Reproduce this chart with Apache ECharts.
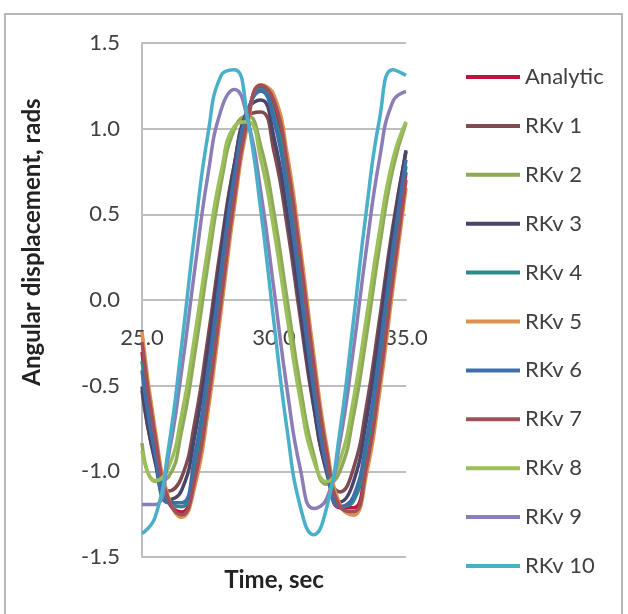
<!DOCTYPE html>
<html>
<head>
<meta charset="utf-8">
<script src="https://cdn.jsdelivr.net/npm/echarts@6/dist/echarts.min.js"></script>
<style>
html, body { margin: 0; padding: 0; background: #fff; }
#chart { width: 628px; height: 614px; }
</style>
</head>
<body>
<div id="chart"></div>
<script>
// time samples, sec
const times = [25.0, 25.5, 26.0, 26.5, 27.0, 27.5, 28.0, 28.5, 29.0, 29.5, 30.0,
  30.5, 31.0, 31.5, 32.0, 32.5, 33.0, 33.5, 34.0, 34.5, 35.0]

const seriesNames = ['Analytic', 'RKv 1', 'RKv 2', 'RKv 3', 'RKv 4', 'RKv 5',
  'RKv 6', 'RKv 7', 'RKv 8', 'RKv 9', 'RKv 10']

// angular displacement, rads
const analytic = [-0.304, -0.839, -1.177, -1.237, -1.004, -0.535, 0.061, 0.643, 1.072, 1.249, 1.130,
  0.745, 0.183, -0.421, -0.926, -1.213, -1.213, -0.926, -0.421, 0.183, 0.745]
const rkv1 = [-0.528, -0.931, -1.115, -1.035, -0.711, -0.219, 0.325, 0.792, 1.072, 1.098, 0.866,
  0.429, -0.110, -0.622, -0.988, -1.120, -0.988, -0.622, -0.110, 0.429, 0.866]
const rkv2 = [-0.835, -1.059, -1.033, -0.764, -0.314, 0.211, 0.685, 0.998, 1.075, 0.898, 0.509,
  0.000, -0.509, -0.898, -1.075, -0.998, -0.685, -0.211, 0.314, 0.764, 1.033]
const rkv3 = [-0.505, -0.948, -1.167, -1.111, -0.792, -0.287, 0.287, 0.792, 1.111, 1.167, 0.948,
  0.505, -0.058, -0.607, -1.012, -1.179, -1.067, -0.703, -0.173, 0.398, 0.874]
const rkv4 = [-0.357, -0.870, -1.177, -1.206, -0.951, -0.471, 0.121, 0.683, 1.085, 1.230, 1.085,
  0.683, 0.121, -0.471, -0.951, -1.206, -1.177, -0.870, -0.357, 0.240, 0.780]
const rkv5 = [-0.186, -0.757, -1.148, -1.268, -1.089, -0.653, -0.062, 0.543, 1.020, 1.256, 1.196,
  0.853, 0.309, -0.309, -0.853, -1.196, -1.256, -1.020, -0.543, 0.062, 0.653]
const rkv6 = [-0.411, -0.904, -1.183, -1.183, -0.904, -0.411, 0.179, 0.727, 1.103, 1.219, 1.047,
  0.627, 0.060, -0.522, -0.980, -1.207, -1.149, -0.819, -0.296, 0.296, 0.819]
const rkv7 = [-0.246, -0.799, -1.164, -1.254, -1.048, -0.594, 0.000, 0.594, 1.048, 1.254, 1.164,
  0.799, 0.246, -0.366, -0.891, -1.206, -1.236, -0.974, -0.482, 0.123, 0.700]
const rkv8 = [-0.881, -1.055, -0.979, -0.672, -0.207, 0.308, 0.750, 1.014, 1.040, 0.819, 0.406,
  -0.104, -0.589, -0.935, -1.060, -0.935, -0.589, -0.104, 0.406, 0.819, 1.040]
const rkv9 = [-1.193, -1.193, -0.911, -0.414, 0.180, 0.733, 1.112, 1.229, 1.055, 0.632, 0.060,
  -0.526, -0.988, -1.217, -1.158, -0.826, -0.299, 0.299, 0.826, 1.158, 1.217]
const rkv10 = [-1.363, -1.266, -0.869, -0.267, 0.398, 0.969, 1.311, 1.344, 1.059, 0.524, -0.134,
  -0.761, -1.208, -1.370, -1.208, -0.761, -0.134, 0.524, 1.059, 1.344, 1.311]

const allValues = [analytic, rkv1, rkv2, rkv3, rkv4, rkv5, rkv6, rkv7, rkv8, rkv9, rkv10]

const lineColors = ['#C0143C', '#7F4A50', '#8FA85A', '#4A4468', '#2E8A8A', '#E0914F',
  '#3F6FAA', '#A0505A', '#9BC05A', '#8B7DB5', '#4AAFC8']

const fontName = 'Lato, "Open Sans", sans-serif'

const chart = echarts.init(document.getElementById('chart'))

const series = seriesNames.map((name, i) => ({
  name,
  type: 'line',
  smooth: true,
  symbol: 'none',
  data: times.map((t, j) => [t, allValues[i][j]]),
  lineStyle: { color: lineColors[i], width: 3.5 },
  itemStyle: { color: lineColors[i] }
}))

const option = {
  backgroundColor: '#fff',
  animation: false,
  grid: {
    left: 142,
    top: 43,
    right: 222,
    bottom: 57
  },
  xAxis: {
    type: 'value',
    min: 25,
    max: 35,
    interval: 5,
    // axis crosses at y = 0 (grid is 514px high for 3.0 rads)
    offset: -257,
    axisLine: { onZero: false, lineStyle: { color: '#BEBEBE', width: 2 } },
    axisTick: { show: false },
    splitLine: { show: false },
    axisLabel: {
      margin: 27,
      color: '#404040',
      fontSize: 22,
      fontFamily: fontName,
      formatter: (v) => v.toFixed(1)
    }
  },
  yAxis: {
    type: 'value',
    min: -1.5,
    max: 1.5,
    interval: 0.5,
    axisLine: { show: true, lineStyle: { color: '#BEBEBE', width: 2 } },
    axisTick: { show: false },
    splitLine: { lineStyle: { color: '#BEBEBE', width: 2 } },
    axisLabel: {
      margin: 22,
      color: '#404040',
      fontSize: 22,
      fontFamily: fontName,
      formatter: (v) => v.toFixed(1)
    }
  },
  legend: {
    orient: 'vertical',
    left: 461,
    top: 61,
    icon: 'rect',
    itemWidth: 54,
    itemHeight: 4,
    itemGap: 26.9,
    data: seriesNames,
    textStyle: {
      color: '#404040',
      fontSize: 22,
      lineHeight: 22,
      fontFamily: fontName
    }
  },
  graphic: [
    {
      type: 'rect',
      shape: { x: 5, y: 14, width: 617, height: 604 },
      style: { fill: 'none', stroke: '#A0A0A0', lineWidth: 1.5 },
      silent: true
    },
    {
      type: 'text',
      x: 32,
      y: 242,
      rotation: Math.PI / 2,
      style: {
        text: 'Angular displacement, rads',
        fill: '#222',
        font: 'bold 24px ' + fontName,
        textAlign: 'center',
        textVerticalAlign: 'middle'
      }
    },
    {
      type: 'text',
      x: 274,
      y: 580,
      style: {
        text: 'Time, sec',
        fill: '#222',
        font: 'bold 24px ' + fontName,
        textAlign: 'center',
        textVerticalAlign: 'middle'
      }
    }
  ],
  series
}

chart.setOption(option)
</script>
</body>
</html>
